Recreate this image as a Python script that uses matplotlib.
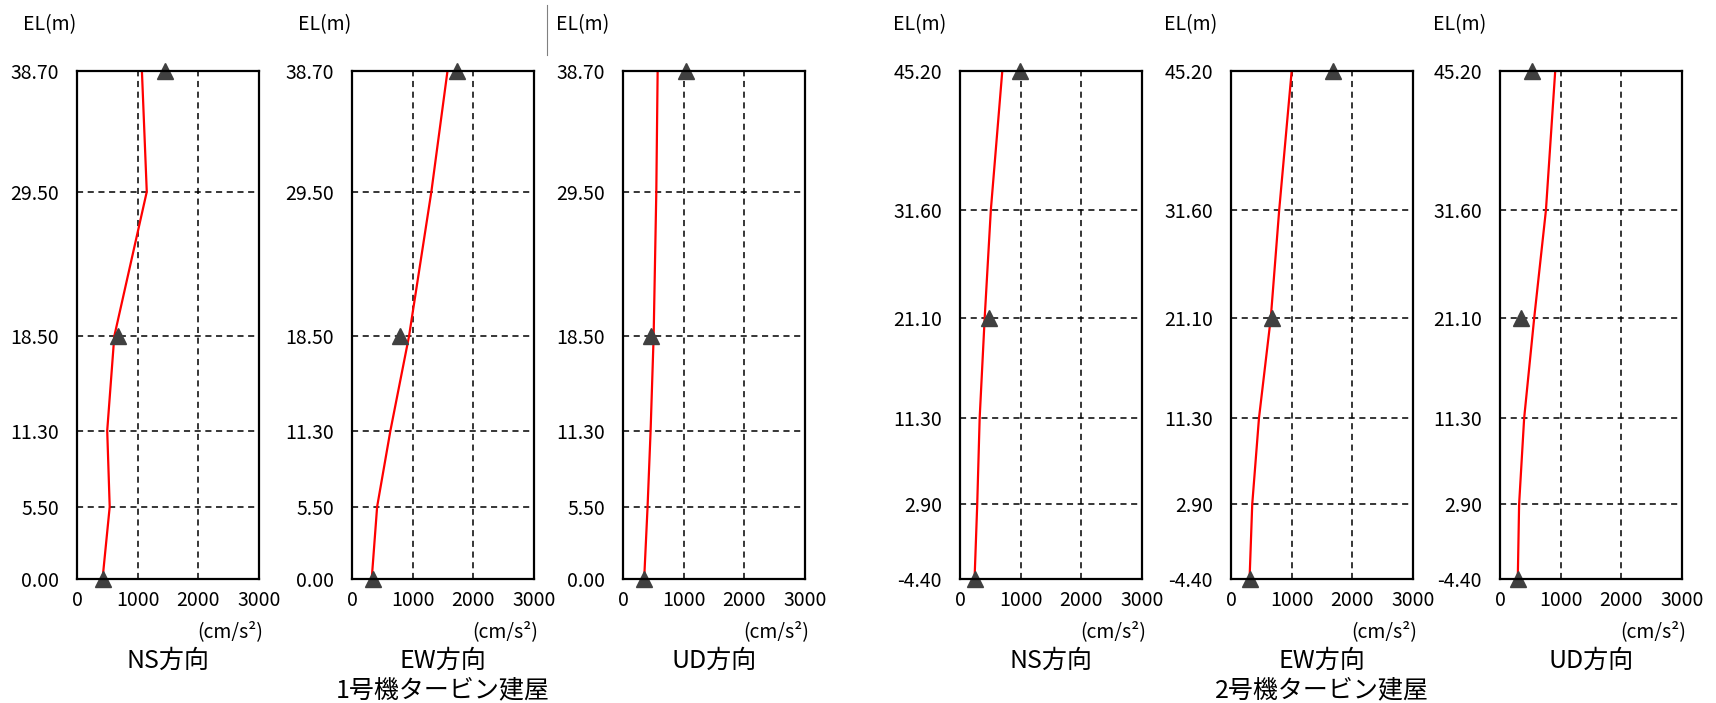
import matplotlib
matplotlib.use("Agg")
import matplotlib.pyplot as plt
from matplotlib.lines import Line2D

plt.rcParams['font.family'] = ['Noto Sans CJK JP', 'DejaVu Sans']

# 1号機タービン建屋 (EL m, 最大応答加速度 cm/s2)
el_u1 = [0.00, 5.50, 11.30, 18.50, 29.50, 38.70]
obs_el_u1 = [0.00, 18.50, 38.70]
ns_u1 = [421, 539, 498, 615, 1150, 1070]
ew_u1 = [325, 414, 633, 940, 1308, 1574]
ud_u1 = [349, 405, 455, 505, 549, 571]
ns_obs_u1 = [421, 676, 1458]
ew_obs_u1 = [343, 799, 1734]
ud_obs_u1 = [349, 460, 1032]

# 2号機タービン建屋
el_u2 = [-4.40, 2.90, 11.30, 21.10, 31.60, 45.20]
obs_el_u2 = [-4.40, 21.10, 45.20]
ns_u2 = [240, 284, 324, 407, 508, 697]
ew_u2 = [306, 350, 461, 656, 794, 1000]
ud_u2 = [293, 315, 398, 564, 757, 910]
ns_obs_u2 = [240, 480, 987]
ew_obs_u2 = [317, 678, 1678]
ud_obs_u2 = [293, 345, 528]

directions = ['NS方向', 'EW方向', 'UD方向']
buildings = ['1号機タービン建屋', '2号機タービン建屋']
x_ticks = [0, 1000, 2000, 3000]

W, H = 1716, 703
fig = plt.figure(figsize=(W / 100, H / 100), dpi=100)

# layout in pixels
lefts = [77, 352, 623, 960, 1231, 1500]
el_offsets = [54, 54, 67, 67, 67, 67]
box_w, top, bottom = 182, 71, 579

panels = [
    (el_u1, ns_u1, obs_el_u1, ns_obs_u1),
    (el_u1, ew_u1, obs_el_u1, ew_obs_u1),
    (el_u1, ud_u1, obs_el_u1, ud_obs_u1),
    (el_u2, ns_u2, obs_el_u2, ns_obs_u2),
    (el_u2, ew_u2, obs_el_u2, ew_obs_u2),
    (el_u2, ud_u2, obs_el_u2, ud_obs_u2),
]

for i, (el, vals, obs_el, obs) in enumerate(panels):
    left = lefts[i]
    ax = fig.add_axes([left / W, 1 - bottom / H, box_w / W, (bottom - top) / H])
    ax.plot(vals, el, color='red', lw=1.6, zorder=3)
    ax.plot(obs, obs_el, '^', color='#404040', ms=12, clip_on=False, zorder=4)
    ax.set_xlim(0, 3000)
    ax.set_ylim(el[0], el[-1])
    ax.set_xticks(x_ticks)
    ax.set_yticks(el)
    ax.set_yticklabels([f'{v:.2f}' for v in el])
    ax.grid(True, ls=(0, (4, 3)), color='black', lw=1.1)
    ax.tick_params(length=0, labelsize=14)
    ax.tick_params(axis='x', pad=8)
    ax.tick_params(axis='y', pad=13)
    for s in ax.spines.values():
        s.set_linewidth(1.6)
        s.set_zorder(5)

    fig.text((left - el_offsets[i]) / W, 1 - 25 / H, 'EL(m)', fontsize=14, ha='left', va='center')
    fig.text((left + box_w + 4) / W, 1 - 632 / H, '(cm/s²)', fontsize=14, ha='right', va='center')
    cx = (left + box_w / 2) / W
    fig.text(cx, 1 - 661 / H, directions[i % 3], fontsize=18, ha='center', va='center')
    if i % 3 == 1:
        fig.text(cx, 1 - 690 / H, buildings[i // 3], fontsize=18, ha='center', va='center')

fig.add_artist(Line2D([547 / W, 547 / W], [1 - 5 / H, 1 - 55 / H], color='gray', lw=0.8))

fig.savefig('out.png', dpi=100)
